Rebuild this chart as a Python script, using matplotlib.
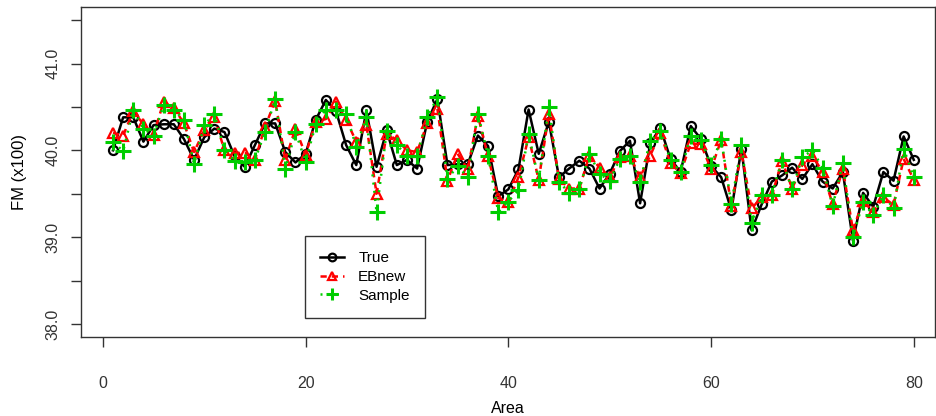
import numpy as np
import matplotlib.pyplot as plt

# data (FM in units of 100)
area = list(range(1, 81))

true_fm = [40.00, 40.38, 40.38, 40.10, 40.29, 40.30, 40.30, 40.13, 39.89, 40.15,
           40.25, 40.21, 39.93, 39.81, 40.06, 40.31, 40.31, 39.98, 39.86, 39.96,
           40.35, 40.58, 40.45, 40.06, 39.83, 40.46, 39.81, 40.23, 39.83, 39.89,
           39.79, 40.33, 40.59, 39.83, 39.84, 39.84, 40.17, 40.05, 39.47, 39.55,
           39.78, 40.47, 39.96, 40.33, 39.69, 39.79, 39.88, 39.79, 39.56, 39.73,
           39.99, 40.11, 39.39, 40.08, 40.26, 39.90, 39.75, 40.28, 40.13, 39.82,
           39.69, 39.31, 40.02, 39.08, 39.38, 39.64, 39.71, 39.80, 39.67, 39.84,
           39.64, 39.56, 39.75, 38.96, 39.51, 39.35, 39.75, 39.65, 40.16, 39.89]

ebnew_fm = [40.20, 40.17, 40.45, 40.30, 40.18, 40.56, 40.49, 40.31, 39.98, 40.23,
            40.38, 40.00, 39.97, 39.97, 39.89, 40.27, 40.57, 39.89, 40.25, 39.95,
            40.33, 40.36, 40.56, 40.35, 40.10, 40.29, 39.50, 40.19, 40.12, 40.00,
            39.98, 40.31, 40.48, 39.65, 39.96, 39.78, 40.40, 39.93, 39.45, 39.40,
            39.69, 40.15, 39.66, 40.42, 39.67, 39.56, 39.56, 39.94, 39.80, 39.69,
            39.92, 39.93, 39.69, 39.94, 40.20, 39.85, 39.74, 40.08, 40.07, 39.78,
            40.12, 39.36, 39.98, 39.33, 39.46, 39.48, 39.88, 39.56, 39.83, 39.94,
            39.75, 39.38, 39.79, 39.08, 39.42, 39.29, 39.46, 39.37, 39.90, 39.66]

sample_fm = [40.10, 39.99, 40.47, 40.25, 40.17, 40.52, 40.47, 40.35, 39.84, 40.29,
             40.42, 40.00, 39.88, 39.87, 39.89, 40.21, 40.59, 39.79, 40.21, 39.87,
             40.30, 40.47, 40.46, 40.42, 40.04, 40.38, 39.29, 40.22, 40.06, 39.94,
             39.93, 40.38, 40.61, 39.67, 39.82, 39.69, 40.42, 39.94, 39.29, 39.41,
             39.54, 40.19, 39.66, 40.50, 39.64, 39.51, 39.55, 39.96, 39.73, 39.65,
             39.90, 39.93, 39.64, 40.11, 40.22, 39.89, 39.75, 40.17, 40.12, 39.83,
             40.13, 39.38, 40.06, 39.16, 39.48, 39.49, 39.89, 39.55, 39.92, 40.00,
             39.80, 39.36, 39.85, 39.00, 39.41, 39.25, 39.49, 39.33, 40.02, 39.69]

plt.rcParams['font.family'] = ['Liberation Sans', 'DejaVu Sans']

fig = plt.figure(figsize=(9.36, 4.16), dpi=100)
ax = fig.add_axes([0.0865, 0.19, 0.9125, 0.793])

ax.plot(area, true_fm, color='black', lw=1.8, ls='-', marker='o', ms=6.5,
        mfc='none', mec='black', mew=1.6, label='True')
ax.plot(area, ebnew_fm, color='red', lw=1.8, ls=(0, (2.5, 2)), marker='^', ms=7.5,
        mfc='none', mec='red', mew=1.6, label='EBnew')
ax.plot(area, sample_fm, color='#00CD00', lw=1.8, ls=(0, (0.8, 2.5)), marker='+',
        ms=11, mec='#00CD00', mew=2.2, label='Sample')

ax.set_xlim(-2.16, 82.1)
ax.set_ylim(37.85, 41.65)

ax.set_xticks([0, 20, 40, 60, 80])
yt = np.arange(38.0, 41.51, 0.5)
ax.set_yticks(yt)
ax.set_yticklabels(['%.1f' % v if v == int(v) else '' for v in yt],
                   rotation=90, va='center')
ax.tick_params(direction='out', length=7, width=1, labelsize=11.5,
               colors='#333333', pad=8)
ax.tick_params(axis='x', pad=21)
for s in ax.spines.values():
    s.set_color('#333333')
    s.set_linewidth(1)

ax.set_xlabel('Area', fontsize=11.5, labelpad=7)
ax.set_ylabel('FM (x100)', fontsize=12, labelpad=13)

leg = ax.legend(loc='lower left', bbox_to_anchor=(0.262, 0.058), fontsize=11,
                frameon=True, fancybox=False, handlelength=1.6,
                borderpad=1.0, labelspacing=0.3, handletextpad=0.9,
                borderaxespad=0, markerscale=0.85)
leg.get_frame().set_edgecolor('black')
leg.get_frame().set_linewidth(1)

fig.savefig('out.png', dpi=100)
